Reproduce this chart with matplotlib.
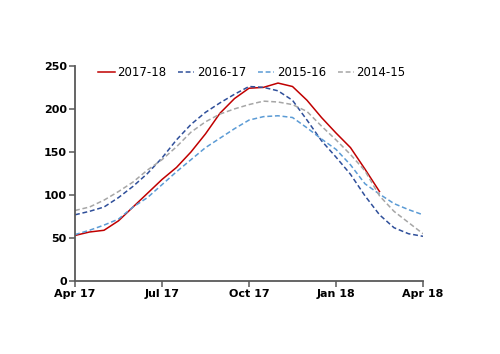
import matplotlib
matplotlib.use("Agg")
import matplotlib.pyplot as plt

# months since Apr 2017, half-month steps
months = [0, 0.5, 1, 1.5, 2, 2.5, 3, 3.5, 4, 4.5, 5, 5.5, 6,
          6.5, 7, 7.5, 8, 8.5, 9, 9.5, 10, 10.5, 11, 11.5, 12]

s_2017_18 = [53, 57, 59, 70, 86, 102, 118, 132, 150, 171, 195, 212, 224,
             225, 230, 226, 210, 190, 172, 155, 130, 104]
s_2016_17 = [77, 81, 86, 97, 110, 125, 143, 164, 182, 196, 207, 217, 226,
             225, 221, 210, 187, 163, 144, 124, 99, 77, 62, 55, 52]
s_2015_16 = [54, 59, 65, 72, 86, 97, 112, 127, 141, 155, 166, 177, 187,
             191, 192, 190, 178, 165, 153, 135, 113, 101, 90, 83, 77]
s_2014_15 = [82, 86, 94, 104, 115, 129, 141, 156, 173, 185, 194, 200, 205,
             209, 208, 205, 197, 180, 164, 147, 128, 99, 81, 68, 55]

tick_pos = [0, 3, 6, 9, 12]
tick_labels = ["Apr 17", "Jul 17", "Oct 17", "Jan 18", "Apr 18"]

fig = plt.figure(figsize=(5, 3.54), dpi=100)
ax = fig.add_axes([0.15, 0.206, 0.696, 0.608])

dash = (0, (3.2, 1.8))
ax.plot(months[:len(s_2017_18)], s_2017_18, color="#C00000", lw=1.1, label="2017-18")
ax.plot(months, s_2016_17, color="#2F4F9A", lw=1.1, linestyle=dash, label="2016-17")
ax.plot(months, s_2015_16, color="#5B9BD5", lw=1.1, linestyle=dash, label="2015-16")
ax.plot(months, s_2014_15, color="#A6A6A6", lw=1.1, linestyle=dash, label="2014-15")

ax.set_xlim(0, 12)
ax.set_ylim(0, 250)
ax.set_xticks(tick_pos)
ax.set_xticklabels(tick_labels)
ax.set_yticks([0, 50, 100, 150, 200, 250])

for side in ["top", "right"]:
    ax.spines[side].set_visible(False)
for side in ["left", "bottom"]:
    ax.spines[side].set_color("#595959")
    ax.spines[side].set_linewidth(1.3)

ax.tick_params(direction="out", length=4, width=1.1, color="#595959",
               labelsize=8, pad=2)
for lab in ax.get_xticklabels() + ax.get_yticklabels():
    lab.set_fontweight("bold")

fig.legend(loc="center left", bbox_to_anchor=(0.196, 0.794), ncol=4,
           frameon=False, fontsize=8.5, handlelength=1.4, handletextpad=0.2,
           columnspacing=1.0, borderpad=0, borderaxespad=0)

fig.savefig("out.png", dpi=100)
